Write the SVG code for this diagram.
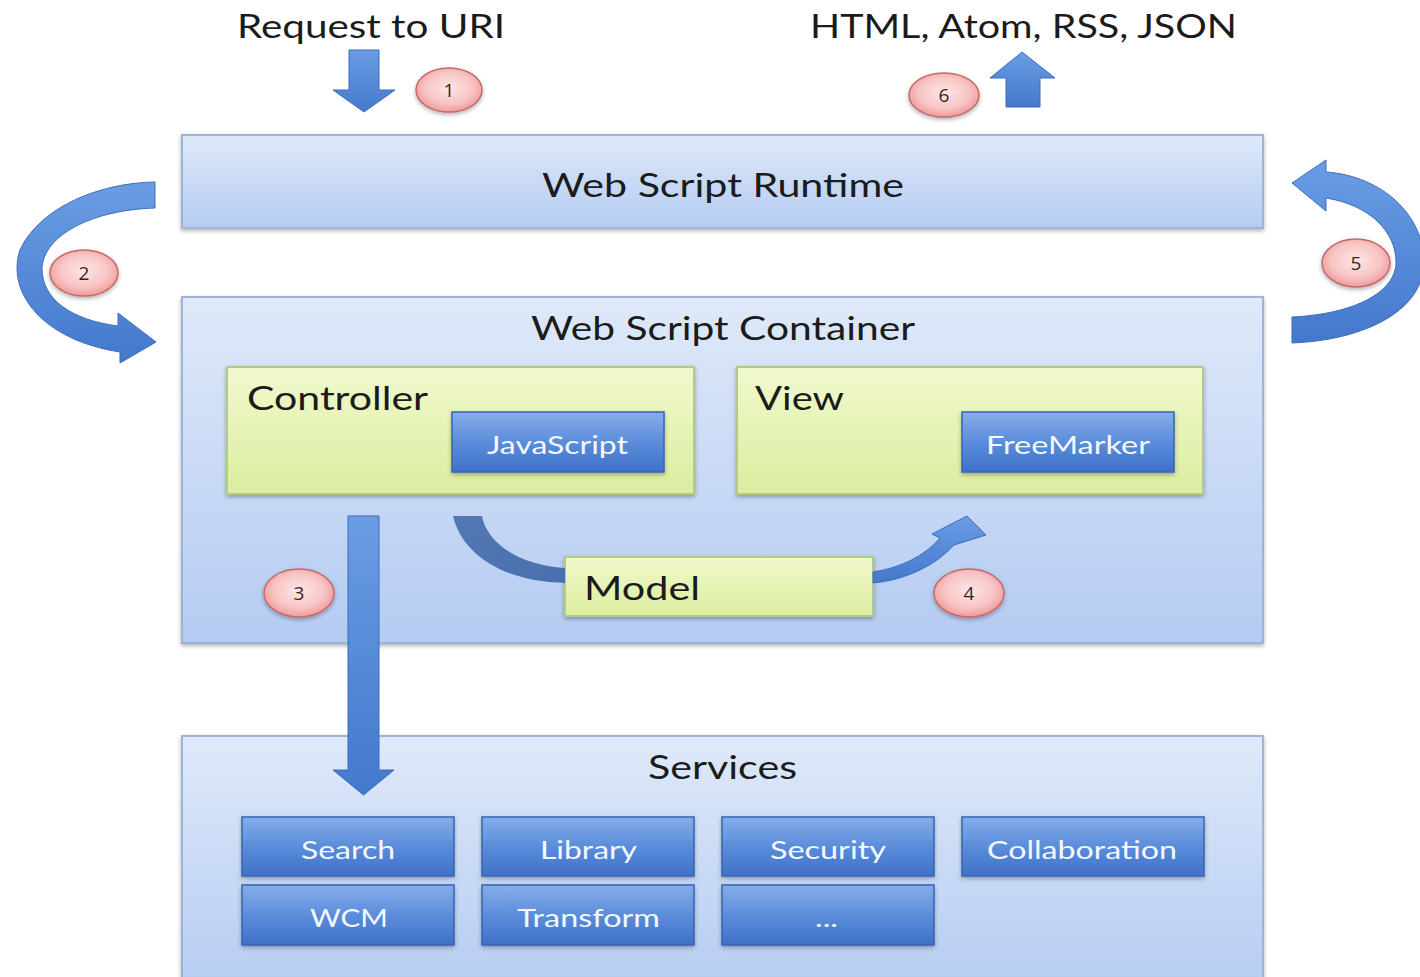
<svg xmlns="http://www.w3.org/2000/svg" width="1420" height="977" viewBox="0 0 1420 977">
<defs>
<linearGradient id="gPanel" x1="0" y1="0" x2="0" y2="1">
<stop offset="0" stop-color="#dfe9f9"/>
<stop offset="1" stop-color="#b4cbf2"/>
</linearGradient>
<linearGradient id="gGreen" x1="0" y1="0" x2="0" y2="1">
<stop offset="0" stop-color="#f1f9cd"/>
<stop offset="1" stop-color="#dbed9e"/>
</linearGradient>
<linearGradient id="gBlue" x1="0" y1="0" x2="0" y2="1">
<stop offset="0" stop-color="#86aeea"/>
<stop offset="0.5" stop-color="#5b8ddb"/>
<stop offset="1" stop-color="#3f71c8"/>
</linearGradient>
<linearGradient id="gArrow" x1="0" y1="0" x2="0" y2="1">
<stop offset="0" stop-color="#6a9de4"/>
<stop offset="1" stop-color="#4478cc"/>
</linearGradient>
<linearGradient id="gArrowDark" x1="0" y1="0" x2="1" y2="1">
<stop offset="0" stop-color="#5378b4"/>
<stop offset="1" stop-color="#4a6fae"/>
</linearGradient>
<radialGradient id="gPink" cx="0.5" cy="0.45" r="0.6">
<stop offset="0" stop-color="#fde6e6"/>
<stop offset="0.6" stop-color="#f8c4c4"/>
<stop offset="1" stop-color="#ee8f8f"/>
</radialGradient>
<filter id="shadow" x="-5%" y="-10%" width="110%" height="130%">
<feDropShadow dx="0" dy="2" stdDeviation="2" flood-color="#000" flood-opacity="0.3"/>
</filter>
</defs>
<style>
.panel{fill:url(#gPanel);stroke:#9db3d8;stroke-width:2;filter:url(#shadow)}
.green{fill:url(#gGreen);stroke:#b3c98c;stroke-width:2;filter:url(#shadow)}
.blue{fill:url(#gBlue);stroke:#3764b0;stroke-width:1.5;filter:url(#shadow)}
.arrow{fill:url(#gArrow);stroke:#3d6dbb;stroke-width:1}
.darrow{fill:url(#gArrowDark);stroke:none}
.badge{fill:url(#gPink);stroke:#c56a6a;stroke-width:1.5;filter:url(#shadow)}
.t{font-family:Lato,"Open Sans","Liberation Sans",sans-serif;fill:#1b1b1b}
.lbl{font-size:33px}
.ttl{font-size:32px}
.w{font-family:Lato,"Open Sans","Liberation Sans",sans-serif;fill:#f4f8ff;font-size:25px}
.num{font-family:"Open Sans","Liberation Sans",sans-serif;font-size:19px;fill:#3a1f1f;text-anchor:middle}
</style>
<rect width="1420" height="977" fill="#ffffff"/>

<g id="label-request">
<text class="t lbl" x="237" y="38" textLength="268" lengthAdjust="spacingAndGlyphs">Request to URI</text>
</g>
<g id="label-output">
<text class="t lbl" x="810" y="38" textLength="427" lengthAdjust="spacingAndGlyphs">HTML, Atom, RSS, JSON</text>
</g>

<g id="runtime">
<rect class="panel" x="182" y="135" width="1081" height="93"/>
<text class="t ttl" x="542" y="197" textLength="362" lengthAdjust="spacingAndGlyphs">Web Script Runtime</text>
</g>

<g id="container">
<rect class="panel" x="182" y="297" width="1081" height="346"/>
<text class="t ttl" x="531" y="340" textLength="384" lengthAdjust="spacingAndGlyphs">Web Script Container</text>
</g>

<g id="controller">
<rect class="green" x="227" y="367" width="467" height="127"/>
<text class="t lbl" x="247" y="410" textLength="181" lengthAdjust="spacingAndGlyphs">Controller</text>
</g>
<g id="javascript">
<rect class="blue" x="452" y="412" width="212" height="60"/>
<text class="w" x="487" y="454" textLength="141" lengthAdjust="spacingAndGlyphs">JavaScript</text>
</g>

<g id="view">
<rect class="green" x="737" y="367" width="466" height="127"/>
<text class="t lbl" x="755" y="410" textLength="89" lengthAdjust="spacingAndGlyphs">View</text>
</g>
<g id="freemarker">
<rect class="blue" x="962" y="412" width="212" height="60"/>
<text class="w" x="986" y="454" textLength="164" lengthAdjust="spacingAndGlyphs">FreeMarker</text>
</g>

<g id="model">
<rect class="green" x="565" y="557" width="308" height="59"/>
<text class="t lbl" x="584" y="600" textLength="116" lengthAdjust="spacingAndGlyphs">Model</text>
</g>

<g id="services">
<rect class="panel" x="182" y="736" width="1081" height="260"/>
<text class="t ttl" x="648" y="779" textLength="149" lengthAdjust="spacingAndGlyphs">Services</text>
</g>
<g id="svc-search">
<rect class="blue" x="242" y="817" width="212" height="59"/>
<text class="w" x="301" y="859" textLength="94" lengthAdjust="spacingAndGlyphs">Search</text>
</g>
<g id="svc-library">
<rect class="blue" x="482" y="817" width="212" height="59"/>
<text class="w" x="540" y="859" textLength="97" lengthAdjust="spacingAndGlyphs">Library</text>
</g>
<g id="svc-security">
<rect class="blue" x="722" y="817" width="212" height="59"/>
<text class="w" x="770" y="859" textLength="116" lengthAdjust="spacingAndGlyphs">Security</text>
</g>
<g id="svc-collaboration">
<rect class="blue" x="962" y="817" width="242" height="59"/>
<text class="w" x="987" y="859" textLength="190" lengthAdjust="spacingAndGlyphs">Collaboration</text>
</g>
<g id="svc-wcm">
<rect class="blue" x="242" y="885" width="212" height="60"/>
<text class="w" x="310" y="927" textLength="78" lengthAdjust="spacingAndGlyphs">WCM</text>
</g>
<g id="svc-transform">
<rect class="blue" x="482" y="885" width="212" height="60"/>
<text class="w" x="517" y="927" textLength="143" lengthAdjust="spacingAndGlyphs">Transform</text>
</g>
<g id="svc-more">
<rect class="blue" x="722" y="885" width="212" height="60"/>
<text class="w" x="815" y="927" textLength="23" lengthAdjust="spacingAndGlyphs">...</text>
</g>

<g id="connectors">
<path id="arrow1" class="arrow" d="M349,50 L379,50 L379,90 L395,90 L364,112 L333,90 L349,90 Z"/>
<path id="arrow6" class="arrow" d="M1006,107 L1040,107 L1040,78 L1055,78 L1022,52 L990,78 L1006,78 Z"/>
<path id="arrow2" class="arrow" d="M155,182 C 95,183 38,210 20,250 C 6,292 42,340 120,352 L120,363 L156,342 L118,313 L118,326 C 72,320 42,300 42,268 C 44,235 92,210 155,208 Z"/>
<path id="arrow5" class="arrow" d="M1292,317 C 1355,314 1396,292 1396,262 C 1396,232 1370,205 1326,198 L1326,211 L1292,183 L1326,160 L1326,172 C 1382,176 1424,215 1424,262 C 1424,310 1366,340 1292,343 Z"/>
<path id="arrow3" class="arrow" d="M348,516 L379,516 L379,770 L394,770 L363.5,795 L333,770 L348,770 Z"/>
<path id="arrow4a" class="darrow" d="M453,516 L482,516 C 486,540 515,565 565,568 L565,583 C 505,582 462,555 453,516 Z"/>
<path id="arrow4b" class="arrow" d="M873,572 C 900,568 925,556 940,538 L932,534 L967,516 L986,535 L954,545 C 935,566 905,580 873,583 Z"/>
</g>

<g id="badge1"><ellipse class="badge" cx="449" cy="90" rx="33" ry="22"/><text class="num" x="449" y="97">1</text></g>
<g id="badge2"><ellipse class="badge" cx="84" cy="273" rx="34" ry="23"/><text class="num" x="84" y="280">2</text></g>
<g id="badge3"><ellipse class="badge" cx="299" cy="593" rx="35" ry="24"/><text class="num" x="299" y="600">3</text></g>
<g id="badge4"><ellipse class="badge" cx="969" cy="593" rx="35" ry="24"/><text class="num" x="969" y="600">4</text></g>
<g id="badge5"><ellipse class="badge" cx="1356" cy="263" rx="34" ry="24"/><text class="num" x="1356" y="270">5</text></g>
<g id="badge6"><ellipse class="badge" cx="944" cy="95" rx="35" ry="22"/><text class="num" x="944" y="102">6</text></g>
</svg>
